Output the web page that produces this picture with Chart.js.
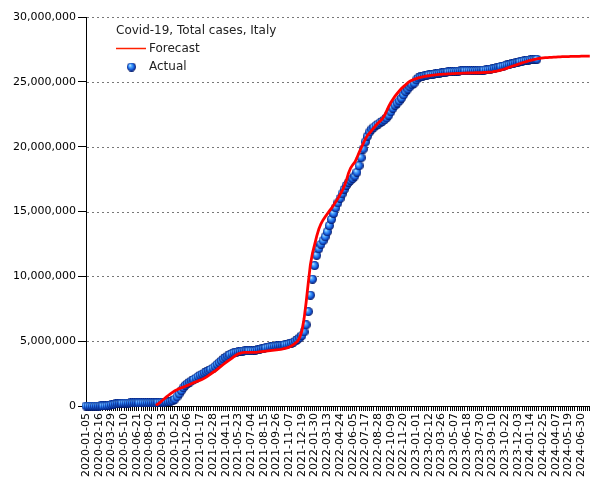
<!DOCTYPE html>
<html><head><meta charset="utf-8">
<script src="https://cdn.jsdelivr.net/npm/chart.js@4"></script>
<style>html,body{margin:0;padding:0;background:#fff}canvas{display:block}</style>
</head><body>
<canvas id="c" width="605" height="480"></canvas>
<script>
// ---- data ----
const chartTitle = 'Covid-19, Total cases, Italy';
const seriesNames = ['Forecast', 'Actual'];
const firstWeek = '2020-01-05';
const weekCount = 239;
const tickLabels = ['2020-01-05','2020-02-16','2020-03-29','2020-05-10','2020-06-21','2020-08-02','2020-09-13','2020-10-25','2020-12-06',
 '2021-01-17','2021-02-28','2021-04-11','2021-05-23','2021-07-04','2021-08-15','2021-09-26','2021-11-07','2021-12-19',
 '2022-01-30','2022-03-13','2022-04-24','2022-06-05','2022-07-17','2022-08-28','2022-10-09','2022-11-20',
 '2023-01-01','2023-02-12','2023-03-26','2023-05-07','2023-06-18','2023-07-30','2023-09-10','2023-10-22','2023-12-03',
 '2024-01-14','2024-02-25','2024-04-07','2024-05-19','2024-06-30'];
const yTicks = [0, 5, 10, 15, 20, 25, 30]; // millions

// Forecast, millions, weekly from week index 33 (2020-08-23)
const forecastStartIndex = 33;
const forecastValues = [
 0.05,0.15,0.28,0.42,0.56,0.70,0.83,0.96,1.07,1.17,
 1.26,1.34,1.40,1.46,1.52,1.59,1.66,1.73,1.80,1.87,
 1.94,2.00,2.06,2.15,2.25,2.36,2.48,2.60,2.70,2.83,
 2.96,3.09,3.22,3.35,3.47,3.58,3.70,3.82,3.93,4.02,
 4.08,4.12,4.13,4.13,4.13,4.13,4.13,4.14,4.15,4.17,
 4.19,4.21,4.23,4.25,4.27,4.29,4.31,4.33,4.35,4.37,
 4.40,4.44,4.48,4.55,4.63,4.74,4.86,5.00,5.30,5.80,
 6.70,8.00,9.50,10.90,11.80,12.45,13.10,13.65,14.05,14.35,
 14.60,14.82,15.05,15.25,15.50,15.75,16.00,16.30,16.60,16.95,
 17.40,17.95,18.35,18.60,18.80,19.15,19.55,19.90,20.25,20.60,
 20.88,21.05,21.25,21.45,21.65,21.82,21.98,22.15,22.40,22.75,
 23.10,23.40,23.65,23.90,24.10,24.30,24.48,24.63,24.78,24.92,
 25.04,25.12,25.19,25.25,25.30,25.35,25.39,25.42,25.45,25.47,
 25.49,25.51,25.53,25.55,25.57,25.58,25.59,25.60,25.61,25.62,
 25.63,25.64,25.65,25.66,25.66,25.67,25.67,25.68,25.68,25.69,
 25.69,25.70,25.70,25.70,25.71,25.72,25.73,25.74,25.75,25.77,
 25.80,25.83,25.87,25.91,25.95,26.00,26.06,26.12,26.18,26.24,
 26.29,26.35,26.40,26.46,26.51,26.56,26.61,26.66,26.70,26.74,
 26.77,26.80,26.82,26.84,26.86,26.87,26.88,26.89,26.90,26.91,
 26.92,26.93,26.94,26.94,26.95,26.95,26.96,26.96,26.97,26.97,
 26.97,26.98,26.98,26.98,26.99,26.99
];

// Actual, millions, weekly from 2020-01-05
const actualValues = [
 0,0,0,0,0,0,0,0.0002,0.0017,0.0074,
 0.0247,0.0591,0.0977,0.1289,0.1564,0.1790,0.1977,0.2107,0.2191,0.2254,
 0.2299,0.2330,0.2353,0.2370,0.2385,0.2403,0.2416,0.2431,0.2446,0.2463,
 0.2481,0.2506,0.2539,0.2593,0.2682,0.2776,0.2878,0.2982,0.3099,0.3253,
 0.3550,0.4142,0.5258,0.7093,0.9351,1.1785,1.4089,1.6016,1.7289,1.8437,
 1.9532,2.0477,2.1554,2.2765,2.3813,2.4668,2.5530,2.6367,2.7292,2.8189,
 2.9253,3.0565,3.2070,3.3472,3.4886,3.6290,3.7541,3.8574,3.9495,4.0356,
 4.1029,4.1534,4.1882,4.2131,4.2337,4.2458,4.2543,4.2585,4.2625,4.2699,
 4.2868,4.3200,4.3634,4.4060,4.4450,4.4860,4.5300,4.5650,4.5940,4.6180,
 4.6360,4.6570,4.6750,4.6940,4.7190,4.7510,4.7950,4.8510,4.9240,5.0160,
 5.1370,5.2680,5.4280,5.7140,6.2660,7.2800,8.5490,9.7810,10.826,11.620,
 12.123,12.468,12.747,13.052,13.434,13.906,14.396,14.846,15.283,15.659,
 16.001,16.362,16.710,17.006,17.232,17.410,17.548,17.734,18.025,18.531,
 19.150,19.818,20.368,20.810,21.132,21.350,21.498,21.628,21.745,21.853,
 21.958,22.074,22.220,22.420,22.685,22.956,23.180,23.363,23.530,23.737,
 23.996,24.245,24.447,24.621,24.772,24.891,25.150,25.300,25.380,25.430,
 25.470,25.500,25.530,25.560,25.580,25.610,25.640,25.670,25.690,25.720,
 25.740,25.760,25.780,25.800,25.810,25.820,25.830,25.840,25.850,25.850,
 25.860,25.860,25.860,25.870,25.870,25.880,25.890,25.900,25.910,25.930,
 25.950,25.980,26.010,26.050,26.090,26.130,26.170,26.210,26.260,26.300,
 26.340,26.380,26.420,26.460,26.500,26.540,26.580,26.620,26.650,26.680,
 26.700,26.720,26.730,26.740
];

// ---- build ----
const categories = [];
const t0 = Date.parse(firstWeek + 'T00:00:00Z');
for (let i = 0; i < weekCount; i++) {
  categories.push(new Date(t0 + i * 7 * 86400000).toISOString().slice(0, 10));
}
const tickSet = new Set(tickLabels);
const forecastData = categories.map((c, i) => (i >= forecastStartIndex && i - forecastStartIndex < forecastValues.length) ? forecastValues[i - forecastStartIndex] : null);
const actualData = categories.map((c, i) => i < actualValues.length ? actualValues[i] : null);

function makeBall(size) {
  const c = document.createElement('canvas');
  c.width = c.height = size;
  const g = c.getContext('2d');
  const r = size / 2;
  const grd = g.createRadialGradient(r * 0.65, r * 0.6, 0.2, r, r, r);
  grd.addColorStop(0, '#d8f4ff');
  grd.addColorStop(0.25, '#5cb2ff');
  grd.addColorStop(0.6, '#1f6ee8');
  grd.addColorStop(0.85, '#0b36a8');
  grd.addColorStop(1, '#021050');
  g.fillStyle = grd;
  g.beginPath();
  g.arc(r, r, r, 0, Math.PI * 2);
  g.fill();
  return c;
}
const ball = makeBall(9);

const fmt = v => (v * 1e6).toLocaleString('en-US');

const gridPlugin = {
  id: 'dashedGrid',
  beforeDatasetsDraw(chart) {
    const {ctx, chartArea, scales: {y}} = chart;
    ctx.save();
    ctx.strokeStyle = '#777';
    ctx.lineWidth = 1;
    ctx.setLineDash([2, 3]);
    y.ticks.forEach(t => {
      if (t.value <= 0) return;
      const py = Math.round(y.getPixelForValue(t.value)) + 0.5;
      ctx.beginPath();
      ctx.moveTo(chartArea.left + 1, py);
      ctx.lineTo(chartArea.right, py);
      ctx.stroke();
    });
    ctx.restore();
  }
};

const legendPlugin = {
  id: 'customLegend',
  afterDraw(chart) {
    const {ctx} = chart;
    ctx.save();
    ctx.fillStyle = '#222';
    ctx.textBaseline = 'middle';
    ctx.textAlign = 'left';
    ctx.font = '12px "DejaVu Sans"';
    ctx.fillText(chartTitle, 116, 31);
    ctx.strokeStyle = '#ff2000';
    ctx.lineWidth = 1.5;
    ctx.beginPath();
    ctx.moveTo(116, 48.5);
    ctx.lineTo(146, 48.5);
    ctx.stroke();
    ctx.fillText(seriesNames[0], 149, 49);
    ctx.drawImage(ball, 127, 62.5);
    ctx.fillText(seriesNames[1], 149, 67);
    ctx.restore();
  }
};

Chart.defaults.font.family = '"DejaVu Sans", sans-serif';
Chart.defaults.font.size = 11;
Chart.defaults.color = '#000';

new Chart(document.getElementById('c'), {
  type: 'line',
  data: {
    labels: categories,
    datasets: [
      {
        label: seriesNames[0],
        data: forecastData,
        borderColor: '#ff0000',
        borderWidth: 2.8,
        pointRadius: 0,
        tension: 0,
        fill: false,
        spanGaps: false
      },
      {
        label: seriesNames[1],
        data: actualData,
        showLine: false,
        pointStyle: ball,
        pointRadius: 4.5,
        clip: false
      }
    ]
  },
  options: {
    responsive: false,
    animation: false,
    devicePixelRatio: 1,
    layout: {padding: {top: 17, right: 7, left: 0, bottom: 0}},
    plugins: {legend: {display: false}, tooltip: {enabled: false}, title: {display: false}},
    scales: {
      x: {
        type: 'category',
        offset: false,
        grid: {display: true, drawOnChartArea: false, drawTicks: true, tickLength: 5, color: '#000'},
        border: {display: true, color: '#000', width: 1},
        ticks: {
          autoSkip: false, minRotation: 90, maxRotation: 90, padding: 2, color: '#000',
          font: {size: 11},
          callback: function (v, i) { const l = categories[i]; return tickSet.has(l) ? l : ''; }
        },
        afterFit(s) { s.height = 74; }
      },
      y: {
        min: yTicks[0],
        max: yTicks[yTicks.length - 1],
        afterBuildTicks(s) { s.ticks = yTicks.map(v => ({value: v})); },
        grid: {display: true, drawOnChartArea: false, drawTicks: true, tickLength: 8, color: '#000'},
        border: {display: true, color: '#000', width: 1},
        ticks: {padding: 2, color: '#000', font: {size: 11}, callback: v => fmt(v)},
        afterFit(s) { s.width = 86; }
      }
    }
  },
  plugins: [gridPlugin, legendPlugin]
});
</script>
</body></html>
